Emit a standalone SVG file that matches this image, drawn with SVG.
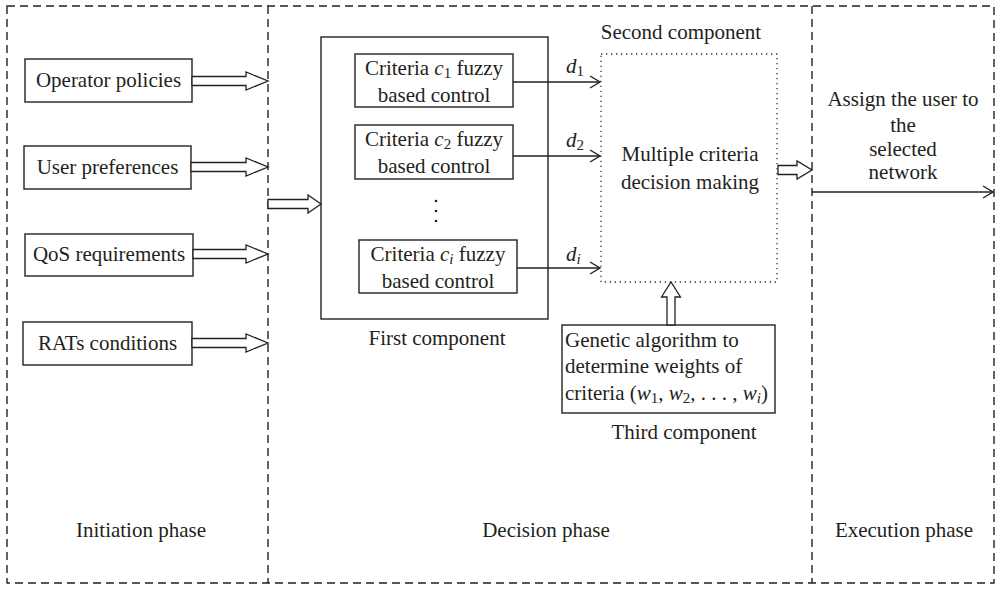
<svg xmlns="http://www.w3.org/2000/svg" width="1000" height="589" viewBox="0 0 1000 589">
<defs>
<marker id="arr" markerUnits="userSpaceOnUse" markerWidth="14" markerHeight="14" viewBox="0 0 14 14" refX="12" refY="7" orient="auto">
<path d="M2,1 L12,7 L2,13" fill="none" stroke="#222" stroke-width="1.4"/>
</marker>
</defs>
<style>
text{font-family:"Liberation Serif","Times New Roman",serif;font-size:21px;fill:#231f20}
.m{text-anchor:middle}
.i{font-style:italic}
.s{font-size:15px}
.box{fill:#fff;stroke:#222;stroke-width:1.4}
.dash{fill:none;stroke:#222;stroke-width:1.4;stroke-dasharray:8 5}
.dot{fill:none;stroke:#333;stroke-width:1.3;stroke-dasharray:1.3 3.7}
.hol{fill:#fff;stroke:#222;stroke-width:1.3;stroke-linejoin:miter}
.ln{fill:none;stroke:#222;stroke-width:1.4;marker-end:url(#arr)}
</style>
<rect width="1000" height="589" fill="#fff"/>
<g id="phases">
<rect class="dash" x="7" y="6" width="987" height="577"/>
<line class="dash" x1="268" y1="6" x2="268" y2="583"/>
<line class="dash" x1="812" y1="6" x2="812" y2="583"/>
<text class="m" x="141" y="537">Initiation phase</text>
<text class="m" x="546" y="537">Decision phase</text>
<text class="m" x="904" y="537">Execution phase</text>
</g>
<g id="operator-policies">
<rect class="box" x="25" y="59" width="167" height="43"/>
<text class="m" x="108.5" y="87">Operator policies</text>
</g>
<g id="user-preferences">
<rect class="box" x="24" y="146" width="167" height="43"/>
<text class="m" x="107.5" y="174">User preferences</text>
</g>
<g id="qos-requirements">
<rect class="box" x="25" y="234" width="168" height="42"/>
<text class="m" x="109" y="261">QoS requirements</text>
</g>
<g id="rats-conditions">
<rect class="box" x="23" y="322" width="169" height="43"/>
<text class="m" x="107.5" y="350">RATs conditions</text>
</g>
<g id="first-component">
<rect class="box" x="321" y="37" width="227" height="282"/>
<text class="m" x="437" y="345">First component</text>
<circle cx="436" cy="201" r="1.3" fill="#222"/>
<circle cx="436" cy="211" r="1.3" fill="#222"/>
<circle cx="436" cy="221" r="1.3" fill="#222"/>
</g>
<g id="criteria-c1">
<rect class="box" x="355" y="54" width="158" height="53"/>
<text class="m" x="434" y="75">Criteria <tspan class="i">c</tspan><tspan class="s" dy="3">1</tspan><tspan dy="-3"> fuzzy</tspan></text>
<text class="m" x="434" y="102">based control</text>
</g>
<g id="criteria-c2">
<rect class="box" x="355" y="125" width="158" height="54"/>
<text class="m" x="434" y="146">Criteria <tspan class="i">c</tspan><tspan class="s" dy="3">2</tspan><tspan dy="-3"> fuzzy</tspan></text>
<text class="m" x="434" y="173">based control</text>
</g>
<g id="criteria-ci">
<rect class="box" x="359" y="240" width="158" height="53"/>
<text class="m" x="438" y="261">Criteria <tspan class="i">c</tspan><tspan class="i s" dy="3">i</tspan><tspan dy="-3"> fuzzy</tspan></text>
<text class="m" x="438" y="288">based control</text>
</g>
<g id="second-component">
<rect class="dot" x="601" y="54" width="176" height="228"/>
<text class="m" x="681" y="39">Second component</text>
<text class="m" x="690" y="161">Multiple criteria</text>
<text class="m" x="690" y="189">decision making</text>
</g>
<g id="third-component">
<rect class="box" x="562" y="325" width="213" height="88"/>
<text x="565" y="347">Genetic algorithm to</text>
<text x="565" y="373">determine weights of</text>
<text x="565" y="400">criteria (<tspan class="i">w</tspan><tspan class="s" dy="3">1</tspan><tspan dy="-3">, </tspan><tspan class="i">w</tspan><tspan class="s" dy="3">2</tspan><tspan dy="-3">, . . . , </tspan><tspan class="i">w</tspan><tspan class="i s" dy="3">i</tspan><tspan dy="-3">)</tspan></text>
<text class="m" x="684" y="439">Third component</text>
</g>
<g id="execution">
<text class="m" x="903" y="106">Assign the user to</text>
<text class="m" x="903" y="132">the</text>
<text class="m" x="903" y="156">selected</text>
<text class="m" x="903" y="179">network</text>
</g>
<g id="connectors">
<path class="hol" d="M192,76.5 H246 V72 L268,81 L246,90 V85.5 H192 Z"/>
<path class="hol" d="M191,162.5 H246 V158 L268,167 L246,176 V171.5 H191 Z"/>
<path class="hol" d="M193,249.5 H246 V245 L268,254 L246,263 V258.5 H193 Z"/>
<path class="hol" d="M192,338.5 H246 V334 L268,343 L246,352 V347.5 H192 Z"/>
<path class="hol" d="M268,199.5 H308 V195 L321,204 L308,213 V208.5 H268 Z"/>
<path class="hol" d="M778,165.5 H797 V161 L812,170 L797,179 V174.5 H778 Z"/>
<path class="hol" d="M667,325 V297 H661.5 L671,282 L680.5,297 H675 V325 Z"/>
<line class="ln" x1="513" y1="82" x2="600" y2="82"/>
<line class="ln" x1="513" y1="156" x2="600" y2="156"/>
<line class="ln" x1="517" y1="268" x2="600" y2="268"/>
<line class="ln" x1="812" y1="192" x2="993" y2="192"/>
<text class="i" x="566" y="73">d<tspan class="s" font-style="normal" dy="3">1</tspan></text>
<text class="i" x="566" y="147">d<tspan class="s" font-style="normal" dy="3">2</tspan></text>
<text class="i" x="566" y="261">d<tspan class="s" dy="3">i</tspan></text>
</g>
</svg>
